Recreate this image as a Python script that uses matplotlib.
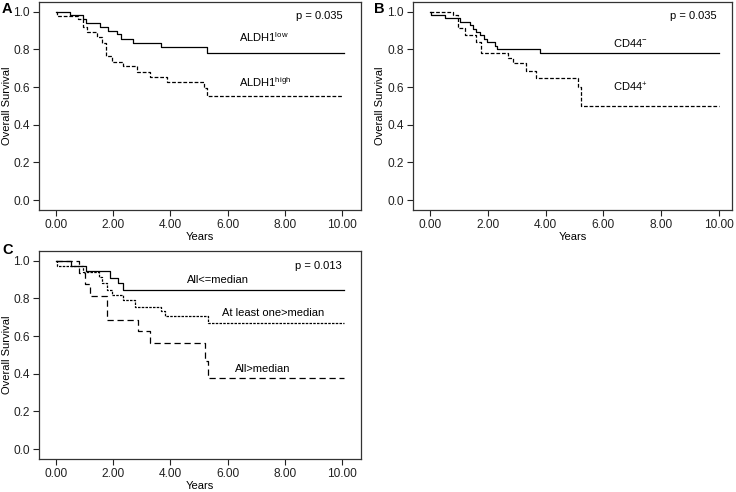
"""
Kaplan-Meier style overall survival curves, three panels (A, B, C)
"""

import matplotlib
matplotlib.use("Agg")
import matplotlib.pyplot as plt

plt.rcParams['font.family'] = ['Liberation Sans', 'DejaVu Sans']

# Panel A - ALDH1
A_LOW_T = [0.0, 0.50, 0.94, 1.06, 1.55, 1.84, 2.15, 2.27, 2.69, 3.67, 5.29, 10.05]
A_LOW_S = [1.0, 0.982, 0.961, 0.938, 0.92, 0.899, 0.88, 0.858, 0.835, 0.814, 0.781, 0.781]
A_HIGH_T = [0.0, 0.05, 0.79, 0.96, 1.10, 1.43, 1.60, 1.76, 1.95, 2.36, 2.85, 3.29, 3.87, 5.17, 5.29, 10.0]
A_HIGH_S = [1.0, 0.975, 0.96, 0.92, 0.894, 0.867, 0.832, 0.765, 0.735, 0.713, 0.68, 0.654, 0.628, 0.593, 0.554, 0.554]

# Panel B - CD44
B_NEG_T = [0.0, 0.05, 0.52, 1.03, 1.37, 1.47, 1.60, 1.72, 1.85, 1.98, 2.24, 2.32, 3.82, 10.0]
B_NEG_S = [1.0, 0.982, 0.965, 0.947, 0.929, 0.911, 0.893, 0.876, 0.858, 0.84, 0.82, 0.802, 0.782, 0.782]
B_POS_T = [0.0, 0.80, 0.97, 1.20, 1.60, 1.78, 2.70, 2.87, 3.31, 3.66, 5.12, 5.24, 10.0]
B_POS_S = [1.0, 0.982, 0.912, 0.876, 0.84, 0.782, 0.752, 0.726, 0.687, 0.65, 0.602, 0.499, 0.499]

# Panel C - combined markers
C_LOW_T = [0.0, 0.52, 1.06, 1.89, 2.18, 2.34, 10.05]
C_LOW_S = [1.0, 0.973, 0.947, 0.908, 0.881, 0.846, 0.846]
C_MID_T = [0.0, 0.05, 0.96, 1.50, 1.60, 1.78, 1.95, 2.36, 2.77, 3.67, 3.81, 5.33, 10.05]
C_MID_S = [1.0, 0.971, 0.943, 0.915, 0.881, 0.846, 0.82, 0.793, 0.757, 0.735, 0.705, 0.667, 0.667]
C_HIGH_T = [0.0, 0.82, 1.02, 1.20, 1.78, 2.88, 3.29, 5.21, 5.32, 10.05]
C_HIGH_S = [1.0, 0.9375, 0.875, 0.8125, 0.6875, 0.625, 0.5625, 0.469, 0.375, 0.375]

X_TICKS = [0, 2, 4, 6, 8, 10]
Y_TICKS = [0.0, 0.2, 0.4, 0.6, 0.8, 1.0]

FS = 8
TICK_FS = 8.6
W, H = 736, 492


def style_axes(ax, xlim):
    ax.set_xlim(*xlim)
    ax.set_ylim(-0.053, 1.052)
    ax.set_xticks(X_TICKS)
    ax.set_xticklabels([f"{t:.2f}" for t in X_TICKS], fontsize=TICK_FS)
    ax.set_yticks(Y_TICKS)
    ax.set_yticklabels([f"{t:.1f}" for t in Y_TICKS], fontsize=TICK_FS)
    ax.tick_params(direction='out', length=4.5, width=0.8, pad=2, colors='#222222')
    for sp in ax.spines.values():
        sp.set_linewidth(0.9)
        sp.set_color('#333333')
    ax.set_xlabel('Years', fontsize=FS)
    ax.set_ylabel('Overall Survival', fontsize=FS)
    ax.xaxis.set_label_coords(0.5, -0.108)
    ax.yaxis.set_label_coords(-0.084, 0.5)


def axes_rect(left, top, right, bottom):
    return [left / W, 1 - bottom / H, (right - left) / W, (bottom - top) / H]


fig = plt.figure(figsize=(7.36, 4.92), dpi=100)

axA = fig.add_axes(axes_rect(39, 2, 361, 210))
axB = fig.add_axes(axes_rect(413, 2, 732, 210))
axC = fig.add_axes(axes_rect(39, 251, 361, 459))

# A
axA.step(A_LOW_T, A_LOW_S, where='post', color='black', lw=0.9)
axA.step(A_HIGH_T, A_HIGH_S, where='post', color='black', lw=0.9, dashes=(3, 1.5))
style_axes(axA, (-0.58, 10.65))
axA.text(10.0, 0.98, 'p = 0.035', ha='right', va='center', fontsize=FS)
axA.text(6.4, 0.864, r'ALDH1$^{\mathregular{low}}$', ha='left', va='center', fontsize=FS)
axA.text(6.4, 0.628, r'ALDH1$^{\mathregular{high}}$', ha='left', va='center', fontsize=FS)

# B
axB.step(B_NEG_T, B_NEG_S, where='post', color='black', lw=0.9)
axB.step(B_POS_T, B_POS_S, where='post', color='black', lw=0.9, dashes=(3, 1.5))
style_axes(axB, (-0.59, 10.45))
axB.yaxis.set_label_coords(-0.088, 0.5)
axB.text(9.91, 0.98, 'p = 0.035', ha='right', va='center', fontsize=FS)
axB.text(6.33, 0.832, r'CD44$^{\mathregular{-}}$', ha='left', va='center', fontsize=FS)
axB.text(6.33, 0.598, r'CD44$^{\mathregular{+}}$', ha='left', va='center', fontsize=FS)

# C
axC.step(C_LOW_T, C_LOW_S, where='post', color='black', lw=0.9)
axC.step(C_MID_T, C_MID_S, where='post', color='black', lw=0.9, dashes=(2, 1))
axC.step(C_HIGH_T, C_HIGH_S, where='post', color='black', lw=0.9, dashes=(5, 3))
style_axes(axC, (-0.58, 10.65))
axC.text(9.98, 0.973, 'p = 0.013', ha='right', va='center', fontsize=FS)
axC.text(5.67, 0.899, 'All<=median', ha='center', va='center', fontsize=FS)
axC.text(7.58, 0.722, 'At least one>median', ha='center', va='center', fontsize=FS)
axC.text(7.23, 0.425, 'All>median', ha='center', va='center', fontsize=FS)

# panel letters
fig.text(2 / W, 1 - 9 / H, 'A', fontsize=10.5, fontweight='bold', va='center')
fig.text(374 / W, 1 - 9 / H, 'B', fontsize=10.5, fontweight='bold', va='center')
fig.text(2 / W, 1 - 250 / H, 'C', fontsize=10.5, fontweight='bold', va='center')

fig.savefig('out.png', dpi=100)
